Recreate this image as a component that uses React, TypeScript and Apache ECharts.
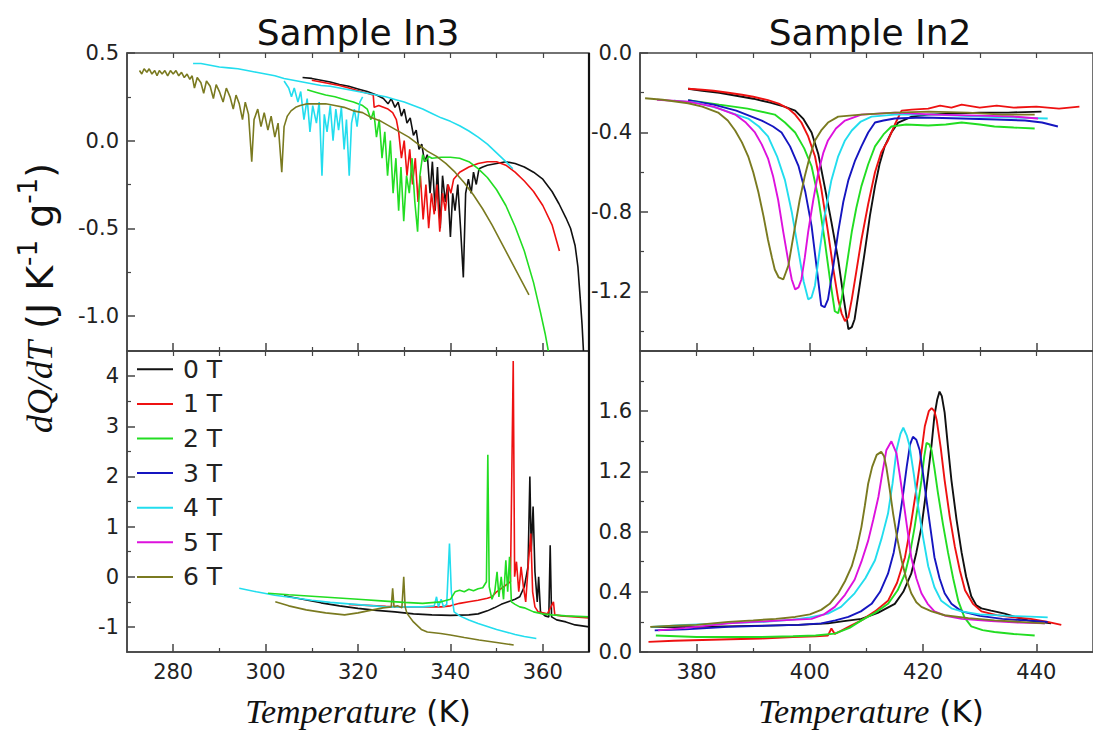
import React, { useEffect, useRef } from "react";
import * as echarts from "echarts";

// ---------- labels ----------
const fieldNames = ["0 T", "1 T", "2 T", "3 T", "4 T", "5 T", "6 T"];
const fieldColors = ["#111111", "#ee1111", "#22dd22", "#1515c0", "#22ddee", "#dd11dd", "#7a7a20"];
const titleLeft = "Sample In3";
const titleRight = "Sample In2";

// ---------- tick labels ----------
const xLeftMajor = [280, 300, 320, 340, 360];
const xLeftMinor = [290, 310, 330, 350];
const xRightMajor = [380, 400, 420, 440];
const xRightMinor = [390, 410, 430];
const yTLMajor = [-1.0, -0.5, 0, 0.5];
const yTLMinor = [-0.75, -0.25, 0.25];
const yBLMajor = [-1, 0, 1, 2, 3, 4];
const yBLMinor = [-0.5, 0.5, 1.5, 2.5, 3.5];
const yTRMajor = [-1.2, -0.8, -0.4, 0];
const yTRMinor = [-1.4, -1.0, -0.6, -0.2];
const yBRMajor = [0, 0.4, 0.8, 1.2, 1.6];
const yBRMinor = [0.2, 0.6, 1.0, 1.4, 1.8];

// ---------- Sample In3, upper panel (T, dQ/dT) ----------
const tl0T = [[308,0.36],[310,0.355],[312,0.345],[314,0.335],[316,0.32],[318,0.31],[320,0.295],[322,0.28],[324,0.26],[325.5,0.24],[326.5,0.21],[327.2,0.24],[328,0.19],[328.7,0.22],[329.4,0.14],[330,0.18],[330.6,0.10],[331.3,0.13],[332,0.03],[332.6,0.06],[333.2,-0.05],[333.8,-0.02],[334.4,-0.12],[335,-0.08],[335.6,-0.3],[336.1,-0.12],[336.7,-0.4],[337.2,-0.15],[337.8,-0.5],[338.3,-0.2],[338.9,-0.35],[339.4,-0.25],[340,-0.55],[340.5,-0.3],[341,-0.4],[341.6,-0.25],[342.2,-0.5],[342.8,-0.78],[343.3,-0.3],[343.9,-0.22],[344.5,-0.3],[345,-0.18],[345.6,-0.25],[346.2,-0.16],[347,-0.15],[348,-0.14],[350,-0.13],[352,-0.12],[354,-0.13],[356,-0.15],[358,-0.18],[360,-0.22],[362,-0.29],[363.5,-0.36],[365,-0.44],[366,-0.5],[367,-0.6],[367.6,-0.72],[368.1,-0.9],[368.5,-1.05],[368.8,-1.2]];
const tl1T = [[310,0.345],[312,0.335],[314,0.325],[316,0.315],[318,0.30],[320,0.285],[322,0.27],[323.3,0.26],[323.5,0.19],[324.5,0.2],[325.5,0.19],[326.5,0.18],[327.5,0.16],[328.3,0.12],[328.8,0.05],[329.4,-0.1],[330,0.0],[330.6,-0.2],[331.2,-0.05],[331.8,-0.25],[332.4,-0.1],[333,-0.35],[333.5,-0.2],[334.1,-0.45],[334.7,-0.25],[335.3,-0.5],[335.9,-0.3],[336.5,-0.42],[337.1,-0.25],[337.7,-0.52],[338.3,-0.3],[338.9,-0.4],[339.5,-0.25],[340.1,-0.3],[340.7,-0.22],[342,-0.18],[344,-0.15],[346,-0.13],[348,-0.12],[350,-0.12],[352,-0.14],[354,-0.18],[356,-0.23],[358,-0.29],[360,-0.37],[362,-0.48],[363.6,-0.63]];
const tl2T = [[309,0.29],[311,0.275],[313,0.26],[315,0.25],[317,0.235],[319,0.22],[321,0.20],[322,0.18],[322.8,0.12],[323.4,0.17],[324,0.02],[324.6,0.12],[325.2,-0.1],[325.8,0.05],[326.4,-0.2],[327,0.0],[327.6,-0.3],[328.2,-0.1],[328.8,-0.4],[329.3,-0.15],[329.9,-0.46],[330.5,-0.2],[331.1,-0.3],[331.7,-0.1],[332.3,-0.35],[332.9,-0.52],[333.4,-0.2],[334,-0.08],[334.6,-0.12],[335.3,-0.09],[336,-0.1],[338,-0.095],[340,-0.095],[342,-0.1],[344,-0.12],[346,-0.16],[348,-0.21],[350,-0.28],[352,-0.37],[354,-0.49],[356,-0.63],[358,-0.81],[359.5,-0.98],[360.5,-1.1],[361.2,-1.2]];
const tl4T = [[284.3,0.44],[286,0.44],[288,0.43],[290,0.42],[292,0.415],[294,0.41],[296,0.40],[298,0.39],[300,0.38],[302,0.37],[304,0.355],[306,0.345],[308,0.335],[310,0.325],[312,0.315],[314,0.31],[316,0.30],[318,0.29],[320,0.28],[322,0.27],[324,0.26],[326,0.25],[328,0.235],[330,0.22],[332,0.20],[334,0.18],[336,0.155],[338,0.13],[340,0.11],[342,0.085],[344,0.055],[346,0.02],[348,-0.02],[350,-0.07],[352,-0.12],[353.5,-0.16]];
const tl4Tdips = [[304,0.34],[305,0.30],[305.6,0.25],[306.2,0.30],[307,0.22],[307.6,0.28],[308.3,0.12],[309,0.24],[309.6,0.05],[310.2,0.20],[311,0.10],[311.6,0.22],[312.2,-0.2],[312.7,0.15],[313.3,0.05],[314,0.20],[314.6,0.0],[315.2,0.18],[315.8,0.06],[316.4,0.19],[317,-0.05],[317.5,0.12],[318.1,-0.2],[318.6,0.10],[319.2,0.18],[319.8,0.08],[320.4,0.22],[321,0.25]];
const tl6T = [[272.7,0.40],[273.2,0.38],[273.7,0.41],[274.3,0.39],[274.8,0.41],[275.4,0.38],[276,0.40],[276.5,0.37],[277,0.40],[277.6,0.38],[278.2,0.40],[278.8,0.37],[279.4,0.40],[280,0.38],[280.6,0.40],[281.2,0.37],[281.8,0.39],[282.4,0.36],[283,0.38],[283.6,0.35],[284.1,0.37],[284.6,0.30],[285.2,0.36],[286,0.33],[286.6,0.27],[287.2,0.34],[288,0.31],[288.7,0.24],[289.3,0.32],[290,0.28],[290.8,0.22],[291.5,0.30],[292.3,0.25],[293,0.18],[293.6,0.26],[294.3,0.21],[295,0.12],[295.6,0.22],[296.3,0.15],[297,-0.12],[297.5,0.12],[298.3,0.18],[299,0.08],[299.7,0.16],[300.5,0.06],[301.2,0.14],[302,0.02],[302.7,0.10],[303.5,-0.18],[304,0.08],[304.7,0.14],[305.5,0.17],[306.5,0.19],[307.5,0.20],[309,0.21],[311,0.21],[313,0.21],[315,0.20],[317,0.19],[319,0.17],[321,0.16],[323,0.13],[325,0.11],[327,0.08],[329,0.05],[331,0.02],[333,-0.02],[335,-0.06],[337,-0.09],[339,-0.13],[341,-0.18],[343,-0.24],[345,-0.31],[347,-0.39],[349,-0.48],[351,-0.58],[353,-0.68],[355,-0.78],[357,-0.88]];

// ---------- Sample In3, lower panel ----------
const bl0T = [[304,-0.38],[308,-0.45],[312,-0.52],[316,-0.58],[320,-0.63],[324,-0.67],[328,-0.7],[332,-0.74],[336,-0.76],[340,-0.77],[344,-0.76],[346,-0.74],[348,-0.68],[349.5,-0.62],[351,-0.55],[352.5,-0.5],[354,-0.45],[355,-0.4],[356,-0.2],[356.8,0.2],[357.2,2.0],[357.5,0.5],[357.9,1.4],[358.3,0.1],[358.8,-0.5],[359.1,0.0],[359.5,-0.7],[360.5,-0.78],[361.3,-0.8],[361.6,0.63],[361.9,-0.8],[363,-0.86],[365,-0.9],[367,-0.96],[370,-1.0]];
const bl1T = [[318,-0.55],[322,-0.57],[326,-0.59],[330,-0.6],[334,-0.6],[338,-0.6],[340,-0.58],[342,-0.53],[344,-0.5],[346,-0.47],[348,-0.43],[349,-0.4],[350,-0.3],[351.5,-0.2],[353,-0.1],[353.6,4.3],[353.9,0.0],[354.3,0.3],[354.8,-0.3],[355.3,0.2],[355.8,-0.2],[356.3,-0.5],[356.9,0.3],[357.4,0.86],[357.8,-0.3],[358.3,-0.6],[359,-0.7],[360,-0.72],[361,-0.74],[362.3,-0.5],[362.6,-0.76],[364,-0.78],[367,-0.8],[370,-0.82]];
const bl2T = [[300.5,-0.33],[305,-0.36],[310,-0.39],[315,-0.42],[320,-0.45],[325,-0.48],[330,-0.51],[334,-0.53],[338,-0.5],[340,-0.45],[341,-0.3],[342,-0.27],[343,-0.3],[344,-0.25],[345,-0.28],[346,-0.24],[347,-0.22],[347.8,-0.1],[348.1,2.43],[348.4,-0.2],[349,-0.45],[349.6,-0.3],[350.1,0.1],[350.5,-0.4],[351,0.0],[351.5,-0.45],[352,0.33],[352.4,-0.3],[352.8,0.4],[353.2,-0.5],[354,-0.55],[355,-0.6],[356,-0.62],[358,-0.7],[360,-0.74],[362,-0.76],[365,-0.78],[370,-0.8]];
const bl4T = [[294.3,-0.23],[298,-0.3],[302,-0.37],[306,-0.42],[310,-0.47],[314,-0.51],[318,-0.54],[322,-0.57],[326,-0.6],[330,-0.6],[334,-0.6],[336.5,-0.58],[337,-0.4],[337.4,-0.6],[338,-0.45],[338.5,-0.6],[339.2,-0.55],[339.8,0.66],[340.2,-0.3],[340.8,-0.7],[342,-0.78],[344,-0.86],[346,-0.93],[348,-0.99],[350,-1.05],[352,-1.1],[354,-1.15],[356,-1.19],[358.6,-1.23]];
const bl6T = [[302.1,-0.5],[305,-0.58],[308.8,-0.66],[313,-0.72],[317.1,-0.76],[320,-0.72],[322.1,-0.68],[325.4,-0.62],[327.2,-0.6],[327.5,-0.23],[327.8,-0.6],[328.6,-0.58],[329.5,-0.62],[329.9,0.0],[330.2,-0.6],[330.6,-0.73],[332,-0.9],[333.7,-1.05],[335,-1.1],[337.9,-1.13],[340,-1.16],[343,-1.21],[346.2,-1.26],[350,-1.31],[353.7,-1.36]];

// ---------- Sample In2, upper panel ----------
const tr0T = [[378.5,-0.18],[381,-0.19],[384,-0.20],[387,-0.215],[390,-0.23],[393,-0.25],[395.5,-0.27],[397.4,-0.29],[398.8,-0.33],[400.3,-0.40],[401.5,-0.51],[402.6,-0.67],[403.8,-0.85],[405,-1.04],[406,-1.24],[406.8,-1.39],[407.4,-1.38],[407.9,-1.34],[408.8,-1.17],[409.7,-1.0],[410.6,-0.82],[411.5,-0.67],[412.3,-0.56],[413.2,-0.47],[414.4,-0.4],[415.6,-0.35],[418,-0.32],[420.9,-0.31],[425,-0.305],[430,-0.30],[435,-0.30],[440.9,-0.295]];
const tr1T = [[378.5,-0.18],[381,-0.185],[383,-0.19],[385.6,-0.20],[388,-0.21],[390,-0.22],[392.6,-0.237],[394.5,-0.255],[396.2,-0.28],[397.4,-0.31],[398.5,-0.35],[399.7,-0.42],[400.9,-0.52],[402,-0.68],[403.2,-0.90],[404.1,-1.08],[405,-1.24],[405.6,-1.31],[406.2,-1.35],[406.8,-1.33],[407.4,-1.24],[408.2,-1.1],[409.1,-0.94],[410.3,-0.76],[411.5,-0.6],[412.6,-0.5],[413.8,-0.44],[415,-0.36],[416.2,-0.29],[418,-0.285],[420.9,-0.28],[423,-0.265],[425,-0.275],[426.8,-0.26],[430,-0.275],[433,-0.265],[436,-0.275],[440,-0.27],[444,-0.28],[447.6,-0.27]];
const tr2T = [[378.5,-0.237],[384,-0.26],[389,-0.28],[393.8,-0.31],[395.6,-0.35],[397.4,-0.40],[399,-0.48],[400.3,-0.57],[401.5,-0.73],[402.6,-0.94],[403.5,-1.13],[404.4,-1.30],[405,-1.31],[405.6,-1.24],[406.5,-1.07],[407.4,-0.90],[408.2,-0.78],[409.1,-0.67],[410.3,-0.56],[411.5,-0.47],[413,-0.41],[414.4,-0.37],[417,-0.36],[420.9,-0.365],[424,-0.36],[426.8,-0.35],[430,-0.36],[432.6,-0.37],[436,-0.375],[439.7,-0.38]];
const tr3T = [[378.5,-0.237],[383,-0.26],[387,-0.29],[391.5,-0.34],[393.5,-0.37],[395,-0.40],[396.5,-0.47],[398,-0.57],[399.2,-0.7],[400.3,-0.87],[401.2,-1.08],[402,-1.27],[402.6,-1.28],[403.2,-1.24],[404.1,-1.08],[405,-0.90],[405.9,-0.75],[406.8,-0.64],[408,-0.54],[409.1,-0.47],[410.3,-0.4],[411.5,-0.35],[413,-0.34],[415,-0.33],[420,-0.325],[426.8,-0.33],[433,-0.335],[438,-0.34],[441,-0.35],[443.8,-0.37]];
const tr4T = [[376,-0.24],[380,-0.25],[384,-0.28],[387,-0.31],[389.1,-0.33],[391,-0.37],[392.6,-0.42],[394.2,-0.52],[395.6,-0.64],[396.8,-0.8],[398,-1.0],[398.9,-1.15],[399.7,-1.24],[400.3,-1.23],[400.9,-1.17],[401.7,-1.0],[402.6,-0.82],[403.8,-0.64],[405,-0.52],[406.2,-0.44],[407.4,-0.39],[409,-0.345],[410.9,-0.32],[415,-0.31],[422,-0.31],[430,-0.32],[436,-0.325],[442,-0.33]];
const tr5T = [[373,-0.235],[378.5,-0.245],[383,-0.27],[386.8,-0.31],[388.7,-0.35],[390.3,-0.40],[391.5,-0.46],[392.6,-0.53],[393.5,-0.62],[394.4,-0.74],[395.3,-0.9],[396.2,-1.05],[396.8,-1.14],[397.4,-1.19],[398,-1.18],[398.5,-1.14],[399.1,-1.03],[399.7,-0.9],[400.6,-0.74],[401.5,-0.6],[402.4,-0.5],[403.2,-0.44],[404.6,-0.38],[406.2,-0.34],[409.1,-0.31],[415,-0.30],[422,-0.31],[430,-0.315],[436,-0.32],[440.3,-0.33]];
const tr6T = [[370.9,-0.228],[374,-0.235],[378.5,-0.253],[381,-0.27],[383.8,-0.30],[385.5,-0.34],[386.8,-0.39],[388,-0.45],[389.1,-0.52],[390,-0.6],[390.9,-0.70],[391.8,-0.82],[392.6,-0.94],[393.3,-1.03],[393.8,-1.09],[394.5,-1.13],[395.3,-1.14],[396.2,-1.07],[396.8,-0.97],[397.4,-0.87],[398.2,-0.74],[399.1,-0.62],[400,-0.52],[400.9,-0.44],[402,-0.39],[403.2,-0.35],[405,-0.32],[409,-0.31],[415,-0.30],[421,-0.295],[428,-0.30],[434,-0.31],[439.7,-0.31]];

// ---------- Sample In2, lower panel ----------
const br0T = [[372,0.167],[378,0.165],[385,0.17],[392,0.175],[398,0.18],[403.2,0.19],[406,0.205],[409.1,0.22],[412,0.26],[415,0.32],[416.5,0.4],[417.9,0.52],[418.8,0.66],[419.7,0.83],[420.3,1.0],[420.9,1.19],[421.5,1.38],[422,1.57],[422.5,1.68],[422.9,1.73],[423.3,1.7],[423.8,1.59],[424.4,1.36],[425,1.14],[425.9,0.88],[426.8,0.66],[427.6,0.5],[428.5,0.37],[429.4,0.31],[430.3,0.29],[432,0.275],[434.4,0.255],[436.5,0.23],[438.5,0.21],[440.5,0.2],[442.6,0.19]];
const br1T = [[371.5,0.067],[376,0.075],[381,0.08],[386,0.085],[391.5,0.09],[397,0.1],[401,0.105],[403.2,0.11],[403.8,0.156],[404.4,0.12],[405.5,0.14],[407,0.17],[409.1,0.21],[411.5,0.27],[413.8,0.34],[415.4,0.46],[416.8,0.63],[417.8,0.84],[418.8,1.08],[419.6,1.3],[420.3,1.5],[421,1.6],[421.5,1.62],[422,1.6],[422.4,1.54],[423.1,1.36],[423.8,1.14],[424.7,0.9],[425.6,0.7],[426.5,0.54],[427.4,0.41],[428.8,0.32],[430.3,0.27],[433,0.245],[435.6,0.233],[439,0.22],[442,0.2],[444.4,0.18]];
const br2T = [[372.8,0.11],[380,0.1],[385,0.1],[391.5,0.1],[397,0.105],[401,0.11],[404.4,0.122],[407,0.16],[409.1,0.21],[411.5,0.26],[413.8,0.32],[415.5,0.41],[416.8,0.52],[417.7,0.66],[418.5,0.83],[419.1,0.98],[419.7,1.14],[420.2,1.3],[420.6,1.39],[421.1,1.38],[421.5,1.34],[422,1.22],[422.6,1.06],[423.5,0.85],[424.4,0.66],[425.3,0.49],[426.2,0.34],[427.3,0.23],[428.5,0.17],[430.5,0.145],[432.6,0.133],[436,0.12],[439.7,0.11]];
const br3T = [[372.6,0.144],[378,0.15],[385.6,0.167],[393,0.175],[398,0.18],[402,0.19],[404.5,0.21],[406.8,0.233],[409,0.27],[410.9,0.32],[412.4,0.4],[413.8,0.52],[414.8,0.66],[415.6,0.83],[416.4,1.03],[417.1,1.23],[417.7,1.38],[418.2,1.43],[418.8,1.41],[419.4,1.34],[420,1.18],[420.6,1.01],[421.3,0.82],[422,0.63],[422.9,0.49],[423.8,0.39],[425,0.32],[426.8,0.27],[430,0.24],[434,0.22],[438,0.21],[442,0.2]];
const br4T = [[372,0.167],[378,0.18],[385,0.19],[392,0.2],[397,0.215],[400,0.23],[403.2,0.255],[405.5,0.3],[407.9,0.39],[409.8,0.49],[411.5,0.61],[412.7,0.76],[413.8,0.92],[414.6,1.12],[415.3,1.34],[416,1.45],[416.5,1.49],[417.1,1.44],[417.6,1.37],[418.4,1.17],[419.1,0.97],[420,0.76],[420.9,0.57],[422,0.43],[423.2,0.34],[425,0.29],[426.8,0.27],[430,0.25],[435,0.24],[439,0.235],[442,0.23]];
const br5T = [[373.2,0.144],[378,0.16],[382,0.175],[385.6,0.19],[390,0.2],[395,0.21],[400.3,0.22],[402.5,0.25],[404.4,0.3],[406.2,0.38],[407.9,0.48],[409.1,0.6],[410.3,0.74],[411.2,0.88],[412.1,1.03],[412.8,1.19],[413.5,1.34],[414.4,1.4],[415.3,1.32],[415.9,1.17],[416.5,1.01],[417.2,0.82],[417.9,0.63],[418.8,0.49],[419.7,0.39],[420.8,0.32],[422,0.27],[424,0.24],[426.8,0.22],[432,0.205],[437,0.195],[441.5,0.19]];
const br6T = [[371.8,0.167],[376,0.175],[380,0.18],[385.6,0.20],[390,0.21],[394,0.22],[397.4,0.233],[400,0.25],[402,0.28],[403.5,0.32],[405,0.39],[406.2,0.47],[407.4,0.57],[408.3,0.69],[409.1,0.83],[409.7,0.97],[410.3,1.12],[411,1.23],[411.8,1.31],[412.6,1.33],[413.1,1.3],[413.5,1.23],[414.1,1.08],[414.7,0.92],[415.4,0.76],[416.2,0.61],[417,0.49],[417.9,0.39],[418.8,0.33],[419.7,0.30],[421.5,0.27],[423.8,0.244],[428,0.225],[432.6,0.21],[437,0.2],[441.5,0.19]];

const SANS = "'DejaVu Sans', 'Liberation Sans', sans-serif";
const SERIF = "'Liberation Serif', 'DejaVu Serif', serif";
const AX = "#444";

function xAxesFor(g: number, min: number, max: number, major: number[], minor: number[], labels: boolean) {
  return [
    {
      type: "value", gridIndex: g, min, max, position: "bottom",
      axisLine: { show: true, onZero: false, lineStyle: { color: AX, width: 1.5 } },
      axisTick: { show: true, inside: true, length: 8, customValues: major, lineStyle: { color: AX, width: 1.5 } },
      axisLabel: { show: labels, customValues: major, margin: 9, fontSize: 21, fontFamily: SANS, color: "#222" },
      splitLine: { show: false },
    },
    {
      type: "value", gridIndex: g, min, max, position: "bottom",
      axisLine: { show: false, onZero: false },
      axisTick: { show: true, inside: true, length: 4, customValues: minor, lineStyle: { color: AX, width: 1.2 } },
      axisLabel: { show: false },
      splitLine: { show: false },
    },
    {
      type: "value", gridIndex: g, min, max, position: "top",
      axisLine: { show: false, onZero: false },
      axisTick: { show: true, inside: true, length: 5, customValues: major.concat(minor), lineStyle: { color: AX, width: 1.2 } },
      axisLabel: { show: false },
      splitLine: { show: false },
    },
  ];
}

function yAxesFor(g: number, min: number, max: number, major: number[], minor: number[], digits: number) {
  return [
    {
      type: "value", gridIndex: g, min, max, position: "left",
      axisLine: { show: true, onZero: false, lineStyle: { color: AX, width: 1.5 } },
      axisTick: { show: true, inside: true, length: 8, customValues: major, lineStyle: { color: AX, width: 1.5 } },
      axisLabel: {
        show: true, customValues: major, margin: 8, fontSize: 21, fontFamily: SANS, color: "#222",
        formatter: (v: number) => (Math.abs(v) < 1e-9 ? 0 : v).toFixed(digits),
      },
      splitLine: { show: false },
    },
    {
      type: "value", gridIndex: g, min, max, position: "left",
      axisLine: { show: false, onZero: false },
      axisTick: { show: true, inside: true, length: 4, customValues: minor, lineStyle: { color: AX, width: 1.2 } },
      axisLabel: { show: false },
      splitLine: { show: false },
    },
  ];
}

export default function App() {
  const ref = useRef<HTMLDivElement>(null);
  useEffect(() => {
    if (!ref.current) return;
    const chart = echarts.init(ref.current, undefined, { renderer: "svg" });

    const panels = [
      { sets: [[tl0T, 0], [tl1T, 1], [tl2T, 2], [tl4T, 4], [tl4Tdips, 4], [tl6T, 6]], w: 1.6 },
      { sets: [[bl0T, 0], [bl1T, 1], [bl4T, 4], [bl6T, 6], [bl2T, 2]], w: 1.6 },
      { sets: [[tr0T, 0], [tr1T, 1], [tr2T, 2], [tr3T, 3], [tr4T, 4], [tr5T, 5], [tr6T, 6]], w: 1.9 },
      { sets: [[br0T, 0], [br1T, 1], [br2T, 2], [br3T, 3], [br4T, 4], [br5T, 5], [br6T, 6]], w: 1.9 },
    ];

    const series: any[] = [];
    // legend anchors (empty data) so the legend order is 0 T ... 6 T
    fieldNames.forEach((n, i) => {
      series.push({ type: "line", name: n, data: [], xAxisIndex: 3, yAxisIndex: 2, symbol: "none", color: fieldColors[i], lineStyle: { width: 1.5 } });
    });
    panels.forEach((p, pi) => {
      p.sets.forEach(([data, k]: any) => {
        series.push({
          type: "line", name: fieldNames[k], data, xAxisIndex: pi * 3, yAxisIndex: pi * 2,
          symbol: "none", showSymbol: false, color: fieldColors[k],
          lineStyle: { width: p.w, color: fieldColors[k] }, silent: true, clip: true,
        });
      });
    });

    const grids = [
      { left: 127, top: 53, width: 462, height: 298 },
      { left: 127, top: 351, width: 462, height: 301 },
      { left: 640, top: 53, width: 463, height: 298 },
      { left: 640, top: 351, width: 463, height: 301 },
    ].map((g) => ({ ...g, show: true, borderColor: AX, borderWidth: 1.5, containLabel: false }));

    const option: any = {
      animation: false,
      backgroundColor: "#ffffff",
      grid: grids,
      xAxis: [
        ...xAxesFor(0, 270, 370, xLeftMajor, xLeftMinor, false),
        ...xAxesFor(1, 270, 370, xLeftMajor, xLeftMinor, true),
        ...xAxesFor(2, 370, 450, xRightMajor, xRightMinor, false),
        ...xAxesFor(3, 370, 450, xRightMajor, xRightMinor, true),
      ],
      yAxis: [
        ...yAxesFor(0, -1.2, 0.5, yTLMajor, yTLMinor, 1),
        ...yAxesFor(1, -1.5, 4.5, yBLMajor, yBLMinor, 0),
        ...yAxesFor(2, -1.5, 0, yTRMajor, yTRMinor, 1),
        ...yAxesFor(3, 0, 2.0, yBRMajor, yBRMinor, 1),
      ],
      legend: {
        data: fieldNames, orient: "vertical", left: 132, top: 347, itemGap: 0,
        icon: "rect", itemWidth: 36, itemHeight: 2, selectedMode: false,
        textStyle: { fontSize: 25, fontFamily: SANS, color: "#222", lineHeight: 34.6, padding: [0, 0, 0, 5] },
      },
      series,
      graphic: [
        { type: "line", shape: { x1: 589, y1: 53, x2: 589, y2: 652 }, style: { stroke: "#111", lineWidth: 2.2 }, z: 100 },
        { type: "text", x: 358, y: 32, style: { text: titleLeft, fontSize: 36, fontFamily: SANS, fill: "#111", align: "center", verticalAlign: "middle" } },
        { type: "text", x: 870, y: 32, style: { text: titleRight, fontSize: 36, fontFamily: SANS, fill: "#111", align: "center", verticalAlign: "middle" } },
        {
          type: "text", x: 40, y: 298, rotation: Math.PI / 2,
          style: {
            text: "{i|dQ/dT}{s| (J K}{p|-1}{s| g}{p|-1}{s|)}", align: "center", verticalAlign: "middle", fill: "#111",
            rich: {
              i: { fontFamily: SERIF, fontStyle: "italic", fontSize: 36, lineHeight: 50, fill: "#111" },
              s: { fontFamily: SANS, fontSize: 38, lineHeight: 50, fill: "#111" },
              p: { fontFamily: SANS, fontSize: 26, lineHeight: 26, verticalAlign: "top", fill: "#111" },
            },
          },
        },
        ...[358, 871].map((cx) => ({
          type: "text", x: cx, y: 711,
          style: {
            text: "{i|Temperature}{s| (K)}", align: "center", verticalAlign: "middle", fill: "#111",
            rich: {
              i: { fontFamily: SERIF, fontStyle: "italic", fontSize: 34, lineHeight: 36, fill: "#111" },
              s: { fontFamily: SANS, fontSize: 31, lineHeight: 36, fill: "#111" },
            },
          },
        })),
      ],
    };
    chart.setOption(option);
    return () => chart.dispose();
  }, []);
  return <div ref={ref} style={{ position: "absolute", left: 0, top: 0, width: 1093, height: 733, background: "#fff" }} />;
}
